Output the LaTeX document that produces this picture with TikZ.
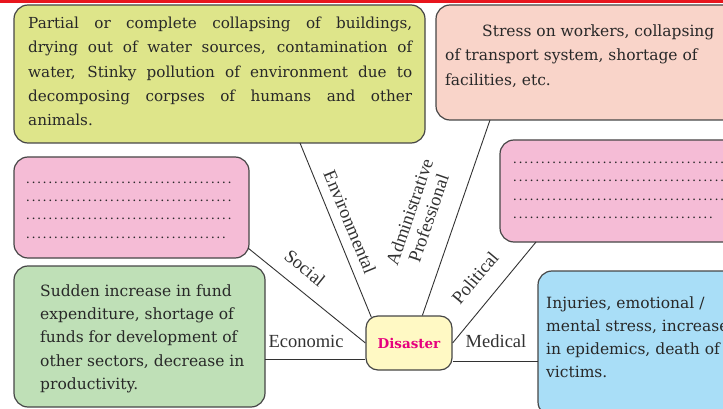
\documentclass[tikz,border=0pt]{standalone}
\usepackage{fontspec}
\setmainfont{DejaVu Serif}
\newfontfamily\labelfont{Liberation Serif}
\usetikzlibrary{calc}

\definecolor{topred}{RGB}{232,22,30}
\definecolor{envfill}{RGB}{222,229,138}
\definecolor{admfill}{RGB}{249,212,201}
\definecolor{pinkfill}{RGB}{245,188,214}
\definecolor{ecofill}{RGB}{191,224,183}
\definecolor{medfill}{RGB}{169,222,247}
\definecolor{disfill}{RGB}{255,249,196}
\definecolor{dismag}{RGB}{230,0,126}
\definecolor{boxline}{RGB}{70,70,70}
\definecolor{linkgray}{RGB}{50,50,50}
\definecolor{bodytext}{RGB}{40,40,40}
\definecolor{taggray}{RGB}{50,50,50}

% a row of dots of a given width, for the blank answer boxes
\newcommand{\dotrow}[1]{\hbox to #1{\leaders\hbox to 5.6pt{\hss.\hss}\hfill}}

\begin{document}
\begin{tikzpicture}[x=1pt,y=-1pt,
  box/.style={draw=boxline, line width=1.2pt, rounded corners=14pt,
    anchor=north west, inner sep=0pt, outer sep=0pt},
  link/.style={draw=linkgray, line width=0.9pt},
  tag/.style={font=\labelfont\fontsize{18.5}{20}\selectfont, text=taggray,
    inner sep=0pt, align=center},
  body/.style={text=bodytext, inner sep=0pt, anchor=north west},
  dots/.style={text=bodytext, inner sep=0pt, anchor=base west,
    font=\fontsize{13}{15}\selectfont}]
\useasboundingbox (0,0) rectangle (723,409);
\begin{scope}
\clip (0,0) rectangle (723,409);

% red strip along the top edge
\fill[topred] (0,0) rectangle (723,2.6);

% the six surrounding boxes
\node[box, fill=envfill, minimum width=411pt, minimum height=138pt] (env) at (14,5) {};
\node[box, fill=admfill, minimum width=300pt, minimum height=115pt] (adm) at (436,5) {};
\node[box, fill=pinkfill, minimum width=235pt, minimum height=101pt] (soc) at (14,157) {};
\node[box, fill=pinkfill, minimum width=240pt, minimum height=102pt] (pol) at (500,140) {};
\node[box, fill=ecofill, minimum width=251pt, minimum height=141pt] (eco) at (14,266) {};
\node[box, fill=medfill, minimum width=200pt, minimum height=145pt] (med) at (538,271) {};

% central node
\node[draw=boxline, line width=1.2pt, fill=disfill, rounded corners=12pt,
  minimum width=86pt, minimum height=54pt, inner sep=0pt,
  font=\bfseries\fontsize{13.5}{16}\selectfont, text=dismag] (dis) at (409,343) {Disaster};

% connectors
\draw[link] ($(env.south west)+(286,0)$) -- ($(dis.north west)+(6,2)$);
\draw[link] ($(adm.south west)+(54,0)$) -- ($(dis.north west)+(57,0)$);
\draw[link] ($(soc.south east)+(-1,-10)$) -- (dis.west);
\coordinate (ecoend) at ($(dis.west)+(0,16)$);
\draw[link] (ecoend) -- (eco.east |- ecoend);
\draw[link] ($(pol.south west)+(36,0)$) -- (dis.east);
\coordinate (medend) at ($(dis.east)+(0,18)$);
\draw[link] (medend) -- (med.west |- medend);

% connector labels
\node[tag, rotate=-67.6] (envlab) at (350,222) {Environmental};
\node[tag, rotate=71] (admlab) at (419,215) {Administrative\\Professional};
\node[tag, rotate=-39] (soclab) at (305,268) {Social};
\node[tag] (ecolab) at (306,341) {Economic};
\node[tag, rotate=50] (pollab) at (475,278) {Political};
\node[tag] (medlab) at (496,341) {Medical};

% box texts
\node[body, text width=384pt, align=justify, font=\fontsize{15.2}{24.4}\selectfont] (envtxt) at (28,16.6)
 {Partial or complete collapsing of buildings,\linebreak
  drying out of water sources, contamination of\linebreak
  water, Stinky pollution of environment due to\linebreak
  decomposing corpses of humans and other\linebreak
  animals.};
\node[body, align=left, font=\fontsize{15.5}{24.5}\selectfont] (admtxt) at (445,24.2)
 {\hspace*{37pt}Stress on workers, collapsing\\
  of transport system, shortage of\\
  facilities, etc.};
\node[body, align=left, font=\fontsize{15.5}{23.4}\selectfont] (ecotxt) at (40,284.2)
 {Sudden increase in fund\\
  expenditure, shortage of\\
  funds for development of\\
  other sectors, decrease in\\
  productivity.};
\node[body, align=left, font=\fontsize{15.5}{23}\selectfont] (medtxt) at (546,296.2)
 {Injuries, emotional /\\
  mental stress, increase\\
  in epidemics, death of\\
  victims.};

% blank dotted lines
\node[dots] (socd1) at (25,183.5) {\dotrow{210pt}};
\node[dots] (socd2) at (25,201.5) {\dotrow{210pt}};
\node[dots] (socd3) at (25,219.5) {\dotrow{210pt}};
\node[dots] (socd4) at (25,238.5) {\dotrow{204pt}};
\node[dots] (pold1) at (512,163.5) {\dotrow{224pt}};
\node[dots] (pold2) at (512,181.5) {\dotrow{224pt}};
\node[dots] (pold3) at (512,200.5) {\dotrow{224pt}};
\node[dots] (pold4) at (512,218.5) {\dotrow{202pt}};
\end{scope}
\end{tikzpicture}
\end{document}
